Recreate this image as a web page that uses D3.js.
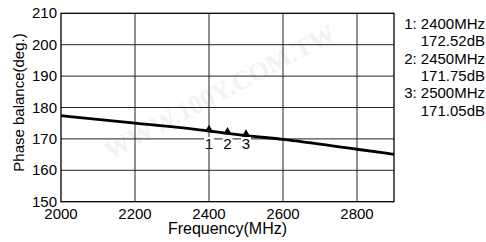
<!DOCTYPE html>
<html>
<head>
<meta charset="utf-8">
<script src="https://cdn.jsdelivr.net/npm/d3@7"></script>
<style>
  body { margin: 0; background: #fff; }
  svg { display: block; font-family: "Liberation Sans", Arial, sans-serif; }
</style>
</head>
<body>
<svg id="chart" width="486" height="242"></svg>
<script>
// Phase balance curve.
const freqs = [2000, 2200, 2400, 2450, 2500, 2600, 2800, 2900];
const phase = [177.4, 175.0, 172.52, 171.75, 171.05, 169.85, 166.7, 165.1];

// Markers.
const markerFreqs = [2400, 2450, 2500];
const markerPhase = [172.52, 171.75, 171.05];
const markerNames = ["1", "2", "3"];

// Ticks and legend text.
const xTicks = [2000, 2200, 2400, 2600, 2800];
const yTicks = [150, 160, 170, 180, 190, 200, 210];
const legendLines = ["1: 2400MHz", "172.52dB", "2: 2450MHz", "171.75dB", "3: 2500MHz", "171.05dB"];

const svg = d3.select("#chart");

// Plot box.
const plotLeft = 61, plotRight = 394, plotTop = 13.3, plotBottom = 201.7;

const x = d3.scaleLinear().domain([2000, 2900]).range([plotLeft, plotRight]);
const y = d3.scaleLinear().domain([150, 210]).range([plotBottom, plotTop]);

// Faint watermark, like the scanned original.
svg.append("text")
    .attr("transform", "translate(110,160) rotate(-28)")
    .attr("font-family", "Liberation Serif, serif")
    .attr("font-weight", "bold")
    .attr("font-size", 26)
    .attr("fill", "#f2f2f2")
    .text("WWW.100Y.COM.TW");

// Grid lines.
svg.append("g")
    .selectAll("line")
    .data(xTicks.slice(1))
    .join("line")
    .attr("x1", d => x(d)).attr("x2", d => x(d))
    .attr("y1", plotTop).attr("y2", plotBottom)
    .attr("stroke", "#222").attr("stroke-width", 1);

svg.append("g")
    .selectAll("line")
    .data(yTicks.slice(1, -1))
    .join("line")
    .attr("x1", plotLeft).attr("x2", plotRight)
    .attr("y1", d => y(d)).attr("y2", d => y(d))
    .attr("stroke", "#222").attr("stroke-width", 1);

// Frame.
svg.append("rect")
    .attr("x", plotLeft).attr("y", plotTop)
    .attr("width", plotRight - plotLeft).attr("height", plotBottom - plotTop)
    .attr("fill", "none").attr("stroke", "#000").attr("stroke-width", 1.3);

// Tick labels.
svg.append("g")
    .selectAll("text")
    .data(yTicks)
    .join("text")
    .attr("x", plotLeft - 4)
    .attr("y", d => y(d) + 5)
    .attr("text-anchor", "end")
    .attr("font-size", 15)
    .text(d => d);

svg.append("g")
    .selectAll("text")
    .data(xTicks)
    .join("text")
    .attr("x", d => x(d))
    .attr("y", 219)
    .attr("text-anchor", "middle")
    .attr("font-size", 15)
    .text(d => d);

// Axis titles.
svg.append("text")
    .attr("x", (plotLeft + plotRight) / 2)
    .attr("y", 234)
    .attr("text-anchor", "middle")
    .attr("font-size", 16)
    .text("Frequency(MHz)");

svg.append("text")
    .attr("transform", "translate(24,102.5) rotate(-90)")
    .attr("text-anchor", "middle")
    .attr("font-size", 15)
    .text("Phase balance(deg.)");

// Curve.
const line = d3.line()
    .x((d, i) => x(freqs[i]))
    .y(d => y(d))
    .curve(d3.curveMonotoneX);

svg.append("path")
    .datum(phase)
    .attr("d", line)
    .attr("fill", "none")
    .attr("stroke", "#000")
    .attr("stroke-width", 2.8);

// Marker triangles and numbers.
const tri = d3.symbol().type(d3.symbolTriangle).size(30);
svg.append("g")
    .selectAll("path")
    .data(markerFreqs)
    .join("path")
    .attr("d", tri)
    .attr("transform", (d, i) => "translate(" + x(d) + "," + (y(markerPhase[i]) - 1.5) + ")")
    .attr("fill", "#000");

const labels = svg.append("g")
    .selectAll("g")
    .data(markerFreqs)
    .join("g");

labels.append("rect")
    .attr("x", d => x(d) - 5)
    .attr("y", 137)
    .attr("width", 10)
    .attr("height", 12)
    .attr("fill", "#fff");

labels.append("text")
    .attr("x", d => x(d))
    .attr("y", 148.5)
    .attr("text-anchor", "middle")
    .attr("font-size", 15)
    .text((d, i) => markerNames[i]);

// Legend at the right.
svg.append("g")
    .selectAll("text")
    .data(legendLines)
    .join("text")
    .attr("x", 485)
    .attr("y", (d, i) => 29 + i * 17.3)
    .attr("text-anchor", "end")
    .attr("font-size", 15)
    .text(d => d);
</script>
</body>
</html>
